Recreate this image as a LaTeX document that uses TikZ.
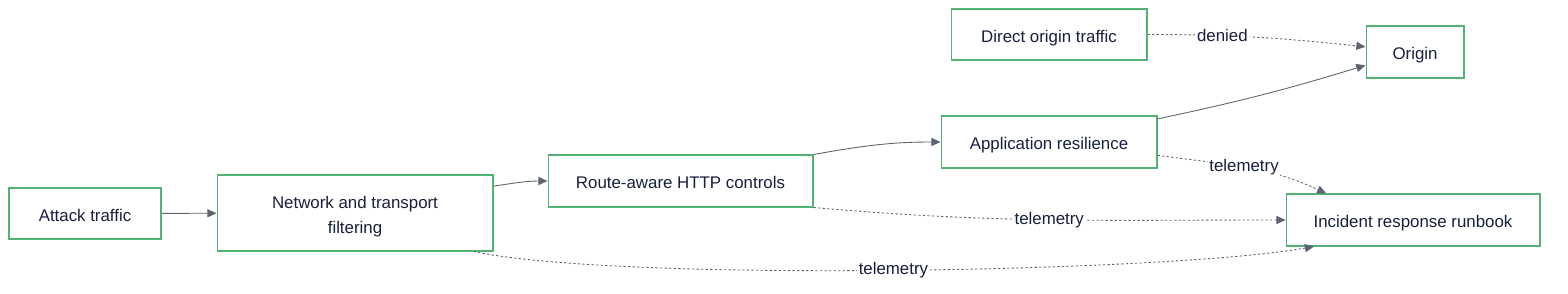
\documentclass[tikz,border=0pt]{standalone}
\usepackage{fontspec}
\setmainfont{Liberation Sans}
\usepackage{xcolor}
\usetikzlibrary{arrows.meta,positioning}

\definecolor{boxline}{RGB}{82,178,116}
\definecolor{inkblue}{RGB}{22,32,62}
\definecolor{edgegray}{RGB}{92,100,114}

\begin{document}
\begin{tikzpicture}[
    x=0.02cm, y=-0.02cm,
    font=\fontsize{9.6}{14.6}\selectfont,
    box/.style={draw=boxline, line width=0.6pt, text=inkblue, minimum height=1.04cm, inner sep=2pt, text height=9pt, text depth=0pt},
    tallbox/.style={draw=boxline, line width=0.6pt, text=inkblue, align=center, inner sep=2pt},
    arrow/.style={-{Triangle[length=5.2pt, width=4.6pt]}, draw=edgegray, line width=0.5pt},
    dotarrow/.style={arrow, dash pattern=on 1.3pt off 1.3pt},
    tag/.style={fill=white, text=inkblue, inner sep=1pt}
  ]
    \useasboundingbox (0,0) rectangle (1568,294);

    \node[box, minimum width=3.04cm, minimum height=1.02cm] (at) at (85,213.5) {Attack traffic};
    \node[tallbox, minimum width=5.52cm, minimum height=1.52cm] (nf) at (355,213) {\rule{0pt}{11pt}Network and transport\\filtering};
    \node[box, minimum width=5.3cm] (rh) at (680.5,181) {Route-aware HTTP controls};
    \node[box, minimum width=4.32cm] (ar) at (1049,142) {Application resilience};
    \node[box, minimum width=3.92cm, minimum height=1.02cm] (do) at (1049,34.5) {Direct origin traffic};
    \node[box, minimum width=1.96cm] (or) at (1415,52) {Origin};
    \node[box, minimum width=5.08cm] (ir) at (1413,220) {Incident response runbook};

    \draw[arrow] (at) -- (nf);
    \draw[arrow] (nf.11) to[out=8, in=180] (rh.west);
    \draw[arrow] (rh.north east) to[out=10, in=180] (ar.west);
    \draw[arrow] (ar.12) to[out=12, in=197] (or.195);
    \draw[dotarrow] (do.east) to[out=0, in=174] node[tag, pos=0.33] {denied} (or.174);
    \draw[dotarrow] (ar.-7) to[out=-8, in=155] node[tag] {telemetry} (ir.163);
    \draw[dotarrow] (rh.south east) to[out=-5, in=180] node[tag] {telemetry} (ir.west);
    \draw[dotarrow] (nf.-18) to[out=-12, in=190, looseness=0.45] node[tag] {telemetry} (ir.195);
  \end{tikzpicture}
\end{document}
